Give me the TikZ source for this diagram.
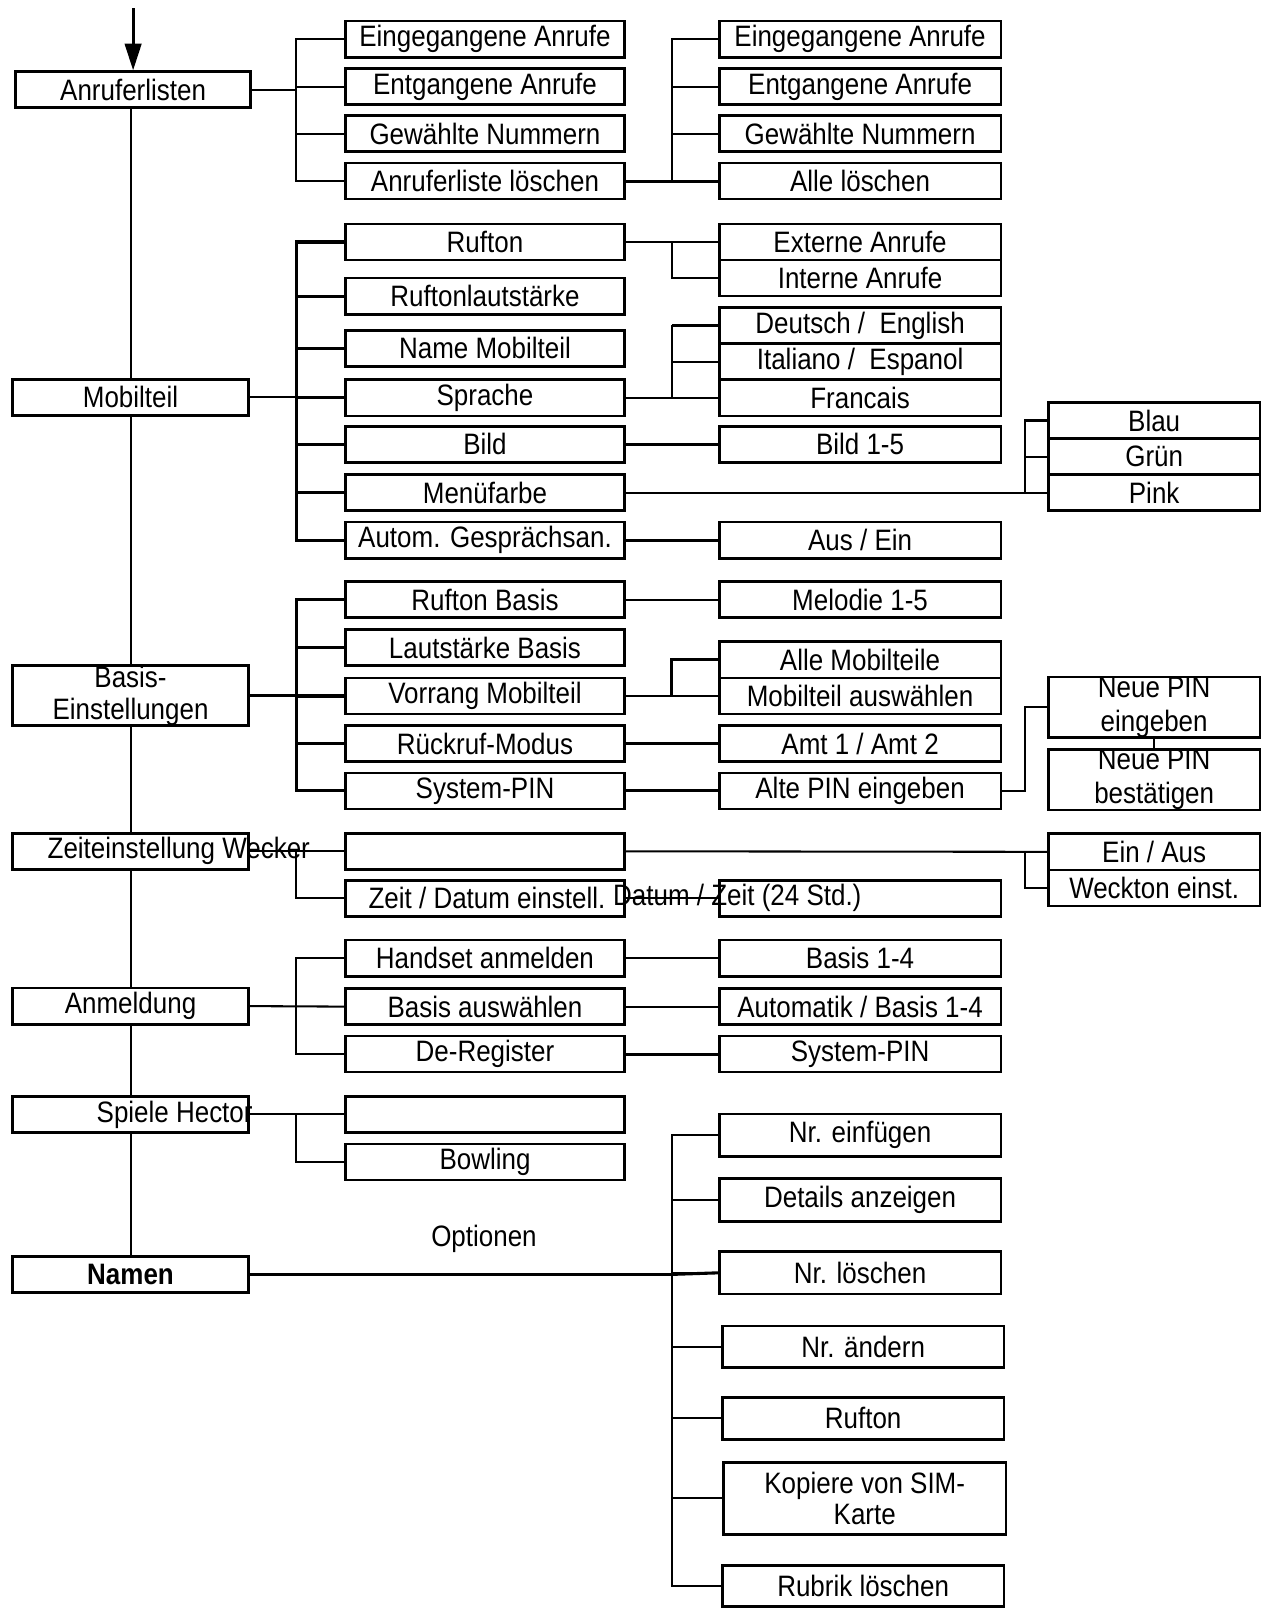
\documentclass[tikz,border=0pt]{standalone}
\usepackage{fontspec}
\setmainfont{Liberation Sans}[FakeStretch=0.88]
\usetikzlibrary{arrows.meta,backgrounds}
\begin{document}
\begin{tikzpicture}[x=1pt,y=-1pt,
  every node/.style={font=\fontsize{28.6}{31}\selectfont,inner sep=0pt},
  box/.style={draw,line width=2.6pt,fill=white,minimum height=35pt,align=center},
  bL/.style={box,minimum width=229pt},
  bB/.style={box,minimum width=270pt},
  bC/.style={box,minimum width=273pt},
  bD/.style={box,minimum width=205pt},
  conn/.style={line width=2pt},
  thk/.style={line width=3pt}]
\useasboundingbox (0,0) rectangle (1234.5,1568);
\coordinate (xA) at (287,0);
\coordinate (xB) at (651,0);
\coordinate (xC) at (993,0);
\coordinate (top) at (129,8);
% left column
\node[box,minimum width=228pt] (anr) at (129,87) {Anruferlisten};
\node[bL] (mob) at (126.5,385) {Mobilteil};
\node[bL,minimum height=58pt] (bas) at (126.5,674) {Basis-\\Einstellungen};
\node[bL] (zeit) at (126.5,825) {};
\node[bL] (anm) at (126.5,975) {Anmeldung};
\node[bL] (spi) at (126.5,1080) {};
\node[bL] (nam) at (126.5,1235) {\bfseries Namen};
% column 2
\node[bB] (ein1) at (470,38) {Eingegangene Anrufe};
\node[bB] (ent1) at (470,84) {Entgangene Anrufe};
\node[bB] (gew1) at (470,129.5) {Gewählte Nummern};
\node[bB] (alo) at (470,175.5) {Anruferliste löschen};
\node[bB] (ruf) at (470,234.5) {Rufton};
\node[bB] (rlaut) at (470,287) {Ruftonlautstärke};
\node[bB] (name) at (470,337.5) {Name Mobilteil};
\node[bB] (spr) at (470,385.5) {Sprache};
\node[bB] (bild) at (470,430.5) {Bild};
\node[bB] (menu) at (470,477.5) {Menüfarbe};
\node[bB] (auto) at (470,523.5) {Autom. Gesprächsan.};
\node[bB] (rba) at (470,581) {Rufton Basis};
\node[bB] (lba) at (470,627.5) {Lautstärke Basis};
\node[bB] (vor) at (470,674.5) {Vorrang Mobilteil};
\node[bB] (rue) at (470,720.5) {Rückruf-Modus};
\node[bB] (spin) at (470,766.5) {System-PIN};
\node[bB] (blank1) at (470,825) {};
\node[bB] (zd) at (470,870.5) {};
\node[bB] (hand) at (470,928.5) {Handset anmelden};
\node[bB] (bausw) at (470,975.5) {Basis auswählen};
\node[bB] (dereg) at (470,1021.5) {De-Register};
\node[bB] (blank2) at (470,1080) {};
\node[bB] (bowl) at (470,1126) {Bowling};
% column 3
\node[bC] (ein2) at (833.5,38) {Eingegangene Anrufe};
\node[bC] (ent2) at (833.5,84) {Entgangene Anrufe};
\node[bC] (gew2) at (833.5,129.5) {Gewählte Nummern};
\node[bC] (alle) at (833.5,175.5) {Alle löschen};
\node[bC] (ext) at (833.5,234.5) {Externe Anrufe};
\node[bC] (int) at (833.5,269.5) {Interne Anrufe};
\node[bC] (deu) at (833.5,315.5) {Deutsch /\ \ English};
\node[bC] (ita) at (833.5,350.5) {Italiano /\ \ Espanol};
\node[bC] (fra) at (833.5,385.5) {Francais};
\node[bC] (bild15) at (833.5,430.5) {Bild 1-5};
\node[bC] (aus) at (833.5,523.5) {Aus / Ein};
\node[bC] (mel) at (833.5,581) {Melodie 1-5};
\node[bC] (allm) at (833.5,639.5) {Alle Mobilteile};
\node[bC] (mausw) at (833.5,674.5) {Mobilteil auswählen};
\node[bC] (amt) at (833.5,720.5) {Amt 1 / Amt 2};
\node[bC] (altpin) at (833.5,766.5) {Alte PIN eingeben};
\node[bC] (dz) at (833.5,870.5) {};
\node[bC] (b14) at (833.5,928.5) {Basis 1-4};
\node[bC] (auto14) at (833.5,975.5) {Automatik / Basis 1-4};
\node[bC] (syspin) at (833.5,1021.5) {System-PIN};
\node[bC,minimum height=41pt] (einf) at (833.5,1100) {Nr. einfügen};
\node[bC,minimum height=42pt] (det) at (833.5,1163) {Details anzeigen};
\node[bC,minimum height=41pt] (nrl) at (833.5,1233.5) {Nr. löschen};
\node[bC,minimum height=40pt] (aend) at (836.5,1305) {Nr. ändern};
\node[bC,minimum height=41pt] (ruf2) at (836.5,1374.5) {Rufton};
\node[box,minimum width=274pt,minimum height=70pt,font=\fontsize{28.6}{30}\selectfont] (kop) at (838,1452) {Kopiere von SIM-\\Karte};
\node[bC,minimum height=40pt] (rub) at (836.5,1537) {Rubrik löschen};
% column 4
\node[bD] (blau) at (1118.5,407.5) {Blau};
\node[bD] (gruen) at (1118.5,442.5) {Grün};
\node[bD] (pink) at (1118.5,477.5) {Pink};
\node[bD,minimum height=59pt,font=\fontsize{28.6}{33}\selectfont] (neu1) at (1118.5,685.5) {Neue PIN\\eingeben};
\node[bD,minimum height=59pt,font=\fontsize{28.6}{33}\selectfont] (neu2) at (1118.5,755.5) {Neue PIN\\bestätigen};
\node[bD] (einaus) at (1118.5,825.5) {Ein / Aus};
\node[bD] (weck) at (1118.5,860.5) {Weckton einst.};
% loose texts
\node[anchor=west] (zt) at (46,825) {Zeiteinstellung Wecker};
\node[anchor=east] (sh) at (245,1080) {Spiele Hector};
\node[anchor=west] (zdt) at (357,870) {Zeit / Datum einstell.};
\node[anchor=west] (dzt) at (594,870) {Datum / Zeit (24 Std.)};
\node (opt) at (469,1201) {Optionen};
% connectors
\begin{pgfonlayer}{background}
\draw[-{Triangle[length=26pt,width=16pt]},line width=2.8pt] (top) -- (anr.north);
\draw[conn] (mob.north |- anr.south) -- (nam.north);
% Anruferlisten
\draw[conn] (anr.east) -- (anr.east -| xA);
\foreach \c in {ein1,ent1,gew1,alo} \draw[conn] (\c.west) -| (anr.east -| xA);
\draw[thk] (alo.east) -- (alle.west);
\foreach \c in {ein2,ent2,gew2} \draw[conn] (\c.west) -| (alo.east -| xB);
% Mobilteil
\draw[conn] (mob.east) -- (mob.east -| xA);
\foreach \c in {ruf,rlaut,name,spr,bild,menu,auto} \draw[thk] (\c.west) -| (mob.east -| xA);
\draw[conn] (ruf.east) -- (ext.west);
\draw[conn] (int.west) -| (ruf.east -| xB);
\draw[conn] (spr.east) -- (fra.west);
\foreach \c in {deu,ita} \draw[conn] (\c.west) -| (spr.east -| xB);
\draw[thk] (deu.west) -- (deu.west -| xB);
\draw[thk] (bild.east) -- (bild15.west);
\draw[conn] (menu.east) -- (pink.west);
\foreach \c in {blau,gruen} \draw[conn] (\c.west) -| (menu.east -| xC);
\draw[thk] (auto.east) -- (aus.west);
% Basis
\draw[conn] (bas.east) -- (bas.east -| xA);
\foreach \c in {rba,lba,vor,rue,spin} \draw[thk] (\c.west) -| (bas.east -| xA);
\draw[conn] (rba.east) -- (mel.west);
\draw[conn] (vor.east) -- (mausw.west);
\draw[thk] (allm.west) -| (vor.east -| xB);
\draw[conn] (rue.east) -- (amt.west);
\draw[thk] (spin.east) -- (altpin.west);
\draw[conn] (altpin.east) -- (altpin.east -| xC) |- (neu1.west);
\draw[conn] (neu1.south) -- (neu2.north);
% Zeiteinstellung
\draw[conn] (zeit.east) -- (blank1.west);
\draw[conn] (zd.west) -| (zeit.east -| xA);
\draw[conn] (blank1.east) -- (einaus.west);
\draw[conn] (weck.west) -| (blank1.east -| xC);
\draw[conn] (zd.east) -- (dz.west);
% Anmeldung
\draw[conn] (anm.east) -- (bausw.west);
\foreach \c in {hand,dereg} \draw[conn] (\c.west) -| (anm.east -| xA);
\draw[conn] (hand.east) -- (b14.west);
\draw[conn] (bausw.east) -- (auto14.west);
\draw[thk] (dereg.east) -- (syspin.west);
% Spiele
\draw[conn] (spi.east) -- (blank2.west);
\draw[conn] (bowl.west) -| (spi.east -| xA);
% Namen
\draw[thk] (nam.east) -- (nam.east -| xB);
\foreach \c in {einf,det,nrl,aend,ruf2,kop,rub} \draw[conn] (\c.west) -| (nam.east -| xB);
\draw[thk] (nam.east -| xB) -- (nrl.west);
\end{pgfonlayer}
\end{tikzpicture}
\end{document}
